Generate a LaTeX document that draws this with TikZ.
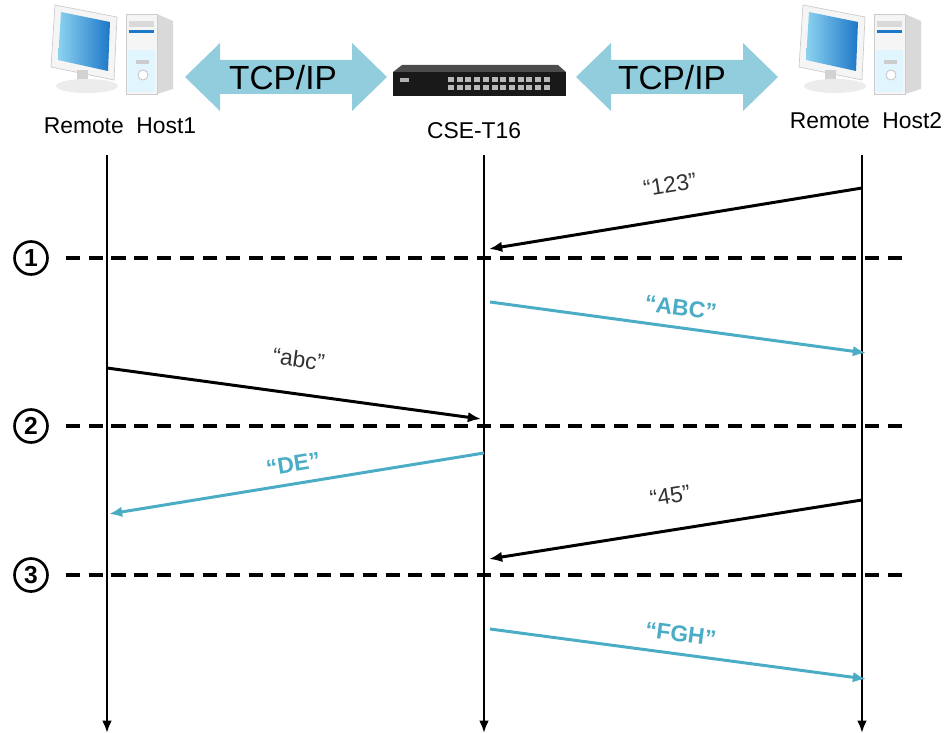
\documentclass[tikz,border=0pt]{standalone}
\usepackage{fontspec}
\setmainfont{Liberation Sans}
\usetikzlibrary{arrows.meta,calc,positioning}
\definecolor{msgblue}{RGB}{75,172,198}
\definecolor{linkblue}{RGB}{146,205,221}
\definecolor{screenlo}{RGB}{140,210,240}
\definecolor{screenhi}{RGB}{30,120,200}
\tikzset{
	x=0.02cm,y=-0.02cm,
	host/.style={inner sep=1pt,font=\fontsize{13}{15}\selectfont},
	link/.style={inner sep=0pt,font=\fontsize{19}{21}\selectfont},
	life/.style={line width=1.3pt,-{Latex[length=7pt,width=5.5pt]}},
	msg/.style={line width=1.7pt,-{Latex[length=7.5pt,width=6pt]}},
	reply/.style={msg,msgblue},
	sepline/.style={line width=2pt,dash pattern=on 8pt off 5pt},
	stepnum/.style={circle,draw,line width=1.5pt,minimum size=0.66cm,inner sep=0pt,font=\bfseries\fontsize{14}{14}\selectfont},
	el/.style={sloped,above=13pt,inner sep=1pt,font=\fontsize{13}{15}\selectfont,text=black!80},
	bl/.style={sloped,above=5pt,inner sep=1pt,font=\bfseries\fontsize{13}{15}\selectfont,text=msgblue},
	computer/.pic={
		% monitor
		\filldraw[fill=gray!8,draw=gray!40,line width=0.4pt] (55,5) -- (117,17) -- (114,80) -- (51,67) -- cycle;
		\shade[left color=screenlo,right color=screenhi] (61,12) -- (110,22) -- (108,71) -- (58,60) -- cycle;
		\fill[gray!35] (77,70) rectangle (88,82);
		\fill[gray!15] (87,86) ellipse [x radius=31,y radius=7];
		% tower
		\fill[gray!30] (157,14) -- (173,21) -- (173,89) -- (157,94) -- cycle;
		\filldraw[fill=gray!8,draw=gray!40,line width=0.4pt] (126,14) rectangle (157,94);
		\fill[cyan!12] (128,50) rectangle (155,92);
		\fill[gray!30] (129,21) rectangle (154,27);
		\fill[screenhi] (129,30) rectangle (154,33);
		\fill[gray!40] (136,60) rectangle (149,64);
		\filldraw[fill=white,draw=gray!50] (143,75) circle [radius=5];
	},
	tcparrow/.pic={
		\fill[linkblue] (-101,0) -- (-66,-34) -- (-66,-17) -- (66,-17) -- (66,-34) -- (101,0)
			-- (66,34) -- (66,17) -- (-66,17) -- (-66,34) -- cycle;
	}
}

\begin{document}
\begin{tikzpicture}
    \useasboundingbox (0,0) rectangle (946,733);

    % header
    \pic at (0,0) {computer};
    \pic at (748,0) {computer};
    \pic at (286,77) {tcparrow};
    \pic at (677,77) {tcparrow};
    \node[link] (tcp1) at (283,78) {TCP/IP};
    \node[link] (tcp2) at (672,78) {TCP/IP};

    % switch
    \fill[black!70] (393,72) -- (402,65) -- (558,65) -- (566,72) -- cycle;
    \fill[black!90] (393,72) rectangle (566,96);
    \fill[gray!60] (400,78) rectangle (409,82);
    \foreach \c in {0,...,11}{
        \fill[gray!55] ({448+\c*8.7},77) rectangle +(6,5);
        \fill[gray!55] ({448+\c*8.7},85) rectangle +(6,5);
    }

    \node[host] (h1) at (120,126) {Remote\ \ Host1};
    \node[host] (sw) at (474,131) {CSE-T16};
    \node[host] (h2) at (866,121) {Remote\ \ Host2};

    % lifelines
    \coordinate (l1t) at (107,155);
    \coordinate (l1b) at (107,733);
    \coordinate (l2t) at (484,155);
    \coordinate (l2b) at (484,733);
    \coordinate (l3t) at (862,155);
    \coordinate (l3b) at (862,733);
    \draw[life] (l1t) -- (l1b);
    \draw[life] (l2t) -- (l2b);
    \draw[life] (l3t) -- (l3b);

    % steps
    \node[stepnum] (n1) at (31,258) {1};
    \node[stepnum] (n2) at (31,426) {2};
    \node[stepnum] (n3) at (31,575) {3};
    \coordinate (d1) at (906,258);
    \coordinate (d2) at (906,426);
    \coordinate (d3) at (906,575);
    \draw[sepline] ($(n1.east)+(17,0)$) -- (d1);
    \draw[sepline] ($(n2.east)+(17,0)$) -- (d2);
    \draw[sepline] ($(n3.east)+(17,0)$) -- (d3);

    % messages
    \coordinate (s1) at (862,188);
    \coordinate (e1) at (489,249);
    \coordinate (s2) at (490,302);
    \coordinate (e2) at (866,353);
    \coordinate (s3) at (107,368);
    \coordinate (e3) at (481,419);
    \coordinate (s4) at (484,453);
    \coordinate (e4) at (109,514);
    \coordinate (s5) at (862,500);
    \coordinate (e5) at (489,559);
    \coordinate (s6) at (490,629);
    \coordinate (e6) at (866,679);

    \path[msg] (s1) edge node[el] {“123”} (e1);
    \path[reply] (s2) edge node[bl] {“ABC”} (e2);
    \path[msg] (s3) edge node[el] {“abc”} (e3);
    \path[reply] (s4) edge node[bl] {“DE”} (e4);
    \path[msg] (s5) edge node[el] {“45”} (e5);
    \path[reply] (s6) edge node[bl] {“FGH”} (e6);
\end{tikzpicture}
\end{document}
